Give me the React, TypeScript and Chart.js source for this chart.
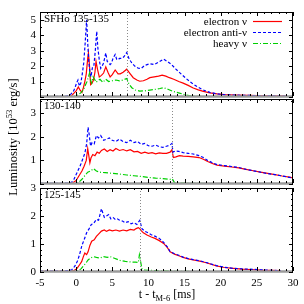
import { useEffect, useRef } from "react";
import { Chart, registerables } from "chart.js";
Chart.register(...registerables);

const FONT = "'Liberation Serif', 'Times New Roman', serif";

// ---------- shared ----------
const xTicks = [-5, 0, 5, 10, 15, 20, 25, 30];
const seriesNames = ["electron ν", "electron anti-ν", "heavy ν"];

// ---------- panel 1: SFHo 135-135 ----------
const p1Label = "SFHo 135-135";
const p1Merger = 7.0;
const p1YTicks = [1, 2, 3, 4, 5];
const p1ElecT = [-5, -2, -1, -0.6, -0.3, 0.0, 0.3, 0.55, 0.8, 1.0, 1.2, 1.4, 1.6, 1.7, 1.85, 2.0, 2.2, 2.4, 2.6, 2.75, 2.95, 3.2, 3.5, 3.8, 4.1, 4.4, 4.7, 5.0, 5.4, 5.8, 6.1, 6.5, 7.0, 7.4, 7.9, 8.4, 8.8, 9.3, 9.8, 10.2, 10.8, 11.4, 11.9, 12.4, 12.9, 13.5, 14.2, 14.8, 15.5, 16.2, 16.9, 17.6, 18.5, 19.5, 20.5, 22, 24, 26, 28, 29];
const p1Elec = [0.02, 0.02, 0.04, 0.1, 0.25, 0.4, 0.65, 0.45, 0.3, 0.6, 1.0, 1.5, 2.5, 2.85, 2.0, 0.8, 0.9, 1.1, 1.6, 2.3, 1.8, 1.3, 1.4, 1.55, 1.95, 1.6, 1.3, 1.45, 1.75, 1.5, 1.5, 1.6, 1.8, 1.55, 1.25, 1.1, 1.02, 1.05, 1.15, 1.25, 1.3, 1.35, 1.42, 1.35, 1.25, 1.15, 1.0, 0.9, 0.75, 0.58, 0.46, 0.36, 0.27, 0.2, 0.15, 0.12, 0.1, 0.08, 0.07, 0.06];
const p1AntiT = [-5, -3, -2, -1.5, -1, -0.7, -0.4, -0.15, 0.05, 0.25, 0.45, 0.65, 0.85, 1.05, 1.25, 1.45, 1.6, 1.75, 1.9, 2.05, 2.25, 2.45, 2.65, 2.85, 3.0, 3.2, 3.4, 3.6, 3.8, 4.1, 4.3, 4.5, 4.7, 4.9, 5.1, 5.4, 5.6, 5.8, 6.0, 6.3, 6.6, 7.0, 7.3, 7.7, 8.1, 8.6, 9.0, 9.5, 10.2, 10.8, 11.4, 12.1, 12.6, 13.2, 13.8, 14.5, 15.2, 16.0, 16.8, 17.6, 18.5, 19.5, 20.5, 22, 24, 26, 28, 29];
const p1Anti = [0.03, 0.03, 0.04, 0.05, 0.1, 0.2, 0.35, 0.6, 0.9, 1.1, 0.7, 0.9, 1.5, 2.2, 3.5, 5.0, 3.5, 2.3, 1.6, 1.3, 1.9, 2.0, 3.0, 4.25, 3.2, 2.4, 1.85, 2.0, 2.2, 2.85, 2.3, 2.2, 2.1, 2.2, 2.5, 2.75, 2.45, 2.4, 2.5, 2.5, 2.6, 2.88, 2.5, 2.2, 2.0, 1.86, 1.85, 2.05, 2.15, 2.1, 2.25, 2.45, 2.3, 2.1, 1.8, 1.5, 1.2, 0.9, 0.65, 0.45, 0.3, 0.2, 0.15, 0.12, 0.1, 0.08, 0.07, 0.06];
const p1HeavyT = [-5, -1, -0.3, 0.2, 0.6, 1.0, 1.3, 1.5, 1.7, 1.85, 2.0, 2.15, 2.35, 2.55, 2.75, 3.0, 3.3, 3.7, 4.1, 4.5, 5.0, 5.5, 6.0, 6.5, 7.0, 7.3, 7.7, 8.2, 8.8, 9.5, 10.2, 11.0, 11.6, 12.1, 12.7, 13.5, 14.3, 15.0, 15.8, 16.5, 18, 20, 24, 28, 29];
const p1Heavy = [0.0, 0.01, 0.05, 0.12, 0.25, 0.45, 0.8, 1.0, 1.3, 1.55, 1.1, 0.9, 1.3, 1.15, 0.95, 1.05, 1.15, 0.95, 1.15, 1.0, 1.05, 1.1, 1.05, 1.1, 1.2, 0.85, 0.6, 0.45, 0.38, 0.4, 0.45, 0.5, 0.55, 0.6, 0.5, 0.35, 0.25, 0.15, 0.08, 0.05, 0.03, 0.02, 0.01, 0.01, 0.01];

// ---------- panel 2: 130-140 ----------
const p2Label = "130-140";
const p2Merger = 13.3;
const p2YTicks = [1, 2, 3];
const p2ElecT = [-5, -1, -0.4, 0.0, 0.4, 0.8, 1.1, 1.4, 1.6, 1.75, 1.9, 2.05, 2.3, 2.6, 2.9, 3.2, 3.5, 3.9, 4.3, 4.7, 5.1, 5.5, 6.0, 6.5, 7.0, 7.5, 8.0, 8.5, 9.0, 9.5, 10.0, 10.5, 11.0, 11.5, 12.0, 12.5, 13.0, 13.25, 13.45, 13.8, 14.3, 14.8, 15.5, 16.2, 17.0, 17.6, 18.2, 19.0, 19.5, 20.5, 21.5, 22.5, 23.5, 24.5, 25.5, 26.5, 27.5, 28.5, 29.5, 30];
const p2Elec = [0.02, 0.03, 0.06, 0.15, 0.35, 0.55, 0.75, 1.0, 1.5, 1.2, 0.9, 1.1, 1.25, 1.2, 1.35, 1.3, 1.42, 1.48, 1.38, 1.45, 1.4, 1.5, 1.42, 1.46, 1.4, 1.45, 1.36, 1.38, 1.3, 1.35, 1.3, 1.33, 1.28, 1.32, 1.3, 1.3, 1.35, 1.45, 1.12, 1.15, 1.2, 1.18, 1.17, 1.15, 1.12, 1.05, 0.95, 0.85, 0.8, 0.76, 0.72, 0.68, 0.62, 0.56, 0.5, 0.45, 0.4, 0.34, 0.29, 0.26];
const p2AntiT = [-5, -2, -1, -0.6, -0.3, 0.0, 0.3, 0.6, 0.9, 1.2, 1.45, 1.65, 1.8, 2.0, 2.2, 2.5, 2.8, 3.1, 3.4, 3.8, 4.2, 4.6, 5.0, 5.5, 6.0, 6.5, 7.0, 7.5, 8.0, 8.5, 9.0, 9.5, 10.0, 10.5, 11.0, 11.5, 12.0, 12.5, 13.0, 13.25, 13.4, 13.7, 14.2, 14.8, 15.5, 16.2, 17.0, 17.6, 18.2, 19.0, 19.5, 20.5, 21.5, 22.5, 23.5, 24.5, 25.5, 26.5, 27.5, 28.5, 29.5, 30];
const p2Anti = [0.03, 0.03, 0.04, 0.08, 0.2, 0.4, 0.6, 0.8, 1.05, 1.3, 1.7, 2.4, 2.1, 1.6, 1.75, 1.7, 2.05, 1.95, 2.05, 1.85, 1.9, 1.95, 1.85, 1.8, 1.9, 1.8, 1.75, 1.85, 1.75, 1.8, 1.68, 1.72, 1.62, 1.6, 1.65, 1.58, 1.55, 1.6, 1.65, 1.72, 1.35, 1.4, 1.38, 1.33, 1.3, 1.27, 1.2, 1.12, 1.0, 0.88, 0.82, 0.78, 0.74, 0.7, 0.62, 0.56, 0.5, 0.44, 0.4, 0.34, 0.28, 0.25];
const p2HeavyT = [-5, 0, 0.4, 0.8, 1.2, 1.6, 2.0, 2.4, 2.8, 3.3, 4.0, 5.0, 6.0, 7.0, 8.0, 9.0, 10.0, 11.0, 12.0, 13.0, 13.3, 13.6, 14.5, 16, 18, 20, 30];
const p2Heavy = [0.0, 0.02, 0.08, 0.2, 0.35, 0.5, 0.55, 0.65, 0.55, 0.5, 0.48, 0.45, 0.42, 0.38, 0.35, 0.32, 0.28, 0.25, 0.23, 0.2, 0.22, 0.06, 0.04, 0.03, 0.02, 0.01, 0.01];

// ---------- panel 3: 125-145 ----------
const p3Label = "125-145";
const p3Merger = 8.8;
const p3YTicks = [0, 1, 2, 3];
const p3ElecT = [-5, -1, -0.3, 0.1, 0.45, 0.76, 1.0, 1.2, 1.45, 1.65, 1.9, 2.15, 2.5, 2.8, 3.1, 3.5, 3.9, 4.2, 4.6, 5.0, 5.5, 6.0, 6.5, 7.0, 7.5, 8.0, 8.3, 8.6, 8.8, 9.0, 9.3, 9.8, 10.4, 10.9, 11.5, 12.1, 12.6, 13.0, 13.6, 14.2, 14.8, 15.5, 16.2, 17.1, 18.0, 19.4, 20.5, 21.7, 23, 24, 25.5, 27, 28.3];
const p3Elec = [0.02, 0.02, 0.05, 0.12, 0.25, 0.37, 0.55, 0.68, 0.62, 0.72, 0.95, 1.1, 1.15, 1.27, 1.35, 1.46, 1.5, 1.45, 1.5, 1.47, 1.5, 1.46, 1.5, 1.47, 1.52, 1.5, 1.55, 1.58, 1.55, 1.48, 1.4, 1.32, 1.25, 1.2, 1.12, 1.02, 0.88, 0.72, 0.64, 0.58, 0.52, 0.47, 0.43, 0.39, 0.33, 0.22, 0.16, 0.13, 0.1, 0.09, 0.07, 0.06, 0.05];
const p3AntiT = [-5, -2, -1, -0.6, -0.2, 0.2, 0.5, 0.8, 1.1, 1.45, 1.8, 2.1, 2.4, 2.8, 3.1, 3.3, 3.5, 3.7, 3.9, 4.2, 4.5, 4.8, 5.1, 5.4, 5.7, 6.0, 6.4, 6.8, 7.2, 7.6, 8.0, 8.4, 8.8, 9.1, 9.5, 9.8, 10.4, 10.9, 11.5, 12.1, 12.6, 13.0, 13.6, 14.2, 14.8, 15.5, 16.2, 17.1, 18.0, 19.4, 20.5, 21.7, 23, 24, 25.5, 27, 28.3];
const p3Anti = [0.03, 0.03, 0.05, 0.08, 0.2, 0.4, 0.65, 0.95, 1.15, 1.4, 1.55, 1.7, 1.73, 1.88, 1.85, 2.05, 2.26, 2.1, 1.95, 2.0, 2.05, 1.9, 1.95, 1.88, 1.9, 1.85, 1.82, 1.76, 1.8, 1.72, 1.76, 1.7, 1.84, 1.55, 1.45, 1.42, 1.33, 1.28, 1.2, 1.06, 0.9, 0.73, 0.65, 0.6, 0.53, 0.48, 0.44, 0.4, 0.34, 0.23, 0.17, 0.13, 0.11, 0.1, 0.08, 0.06, 0.05];
const p3HeavyT = [-5, 0, 0.4, 0.7, 1.0, 1.3, 1.65, 2.0, 2.4, 2.8, 3.3, 3.8, 4.3, 4.7, 5.2, 5.7, 6.1, 6.8, 7.5, 8.2, 8.6, 8.75, 8.9, 9.1, 9.3, 10, 11, 12, 13, 15, 20, 28.3];
const p3Heavy = [0.0, 0.02, 0.06, 0.12, 0.22, 0.3, 0.43, 0.5, 0.55, 0.52, 0.5, 0.55, 0.52, 0.55, 0.5, 0.45, 0.41, 0.38, 0.36, 0.35, 0.34, 0.61, 0.4, 0.12, 0.07, 0.06, 0.05, 0.04, 0.03, 0.02, 0.01, 0.01];

// ---------- styles ----------
const STYLES = [
  { color: "#ff0000", dash: [] as number[] },
  { color: "#0000ff", dash: [3, 2] },
  { color: "#00d000", dash: [5, 2, 1, 2] },
];

type PanelCfg = {
  label: string;
  merger: number;
  yTicks: number[];
  ymax: number;
  minorY: number;
  top: number;
  bottomPad: number;
  showX: boolean;
  legend: boolean;
  titles: boolean;
  series: { t: number[]; v: number[] }[];
};

const PANELS: PanelCfg[] = [
  {
    label: p1Label, merger: p1Merger, yTicks: p1YTicks, ymax: 5.5, minorY: 0.5,
    top: 12, bottomPad: 207, showX: false, legend: true, titles: false,
    series: [{ t: p1ElecT, v: p1Elec }, { t: p1AntiT, v: p1Anti }, { t: p1HeavyT, v: p1Heavy }],
  },
  {
    label: p2Label, merger: p2Merger, yTicks: p2YTicks, ymax: 3.6, minorY: 0.5,
    top: 99, bottomPad: 120, showX: false, legend: false, titles: false,
    series: [{ t: p2ElecT, v: p2Elec }, { t: p2AntiT, v: p2Anti }, { t: p2HeavyT, v: p2Heavy }],
  },
  {
    label: p3Label, merger: p3Merger, yTicks: p3YTicks, ymax: 3.0, minorY: 0.2,
    top: 188, bottomPad: 10, showX: true, legend: false, titles: true,
    series: [{ t: p3ElecT, v: p3Elec }, { t: p3AntiT, v: p3Anti }, { t: p3HeavyT, v: p3Heavy }],
  },
];

function makePlugin(cfg: PanelCfg) {
  return {
    id: "panelFrame",
    afterDraw(chart: any) {
      const { ctx, chartArea: a, scales } = chart;
      const xs = scales.x, ys = scales.y;
      ctx.save();
      // merger line
      ctx.strokeStyle = "#8a8a8a";
      ctx.lineWidth = 1;
      ctx.setLineDash([1, 2]);
      const vx = Math.round(xs.getPixelForValue(cfg.merger)) + 0.5;
      ctx.beginPath();
      ctx.moveTo(vx, a.top);
      ctx.lineTo(vx, a.bottom);
      ctx.stroke();
      ctx.setLineDash([]);

      // bottom gray zero line
      ctx.strokeStyle = "#9a9a9a";
      ctx.lineWidth = 2.5;
      ctx.beginPath();
      ctx.moveTo(a.left, a.bottom - 0.5);
      ctx.lineTo(a.right, a.bottom - 0.5);
      ctx.stroke();

      // frame
      ctx.strokeStyle = "#000";
      ctx.lineWidth = 1;
      ctx.beginPath();
      ctx.moveTo(a.left + 0.5, a.bottom);
      ctx.lineTo(a.left + 0.5, a.top + 0.5);
      ctx.lineTo(a.right - 0.5, a.top + 0.5);
      ctx.lineTo(a.right - 0.5, a.bottom);
      ctx.stroke();

      // inward ticks
      ctx.beginPath();
      for (let t = -5; t <= 30; t++) {
        const px = Math.round(xs.getPixelForValue(t)) + 0.5;
        const len = t % 5 === 0 ? 4 : 2;
        ctx.moveTo(px, a.bottom - 1);
        ctx.lineTo(px, a.bottom - 1 - len);
        ctx.moveTo(px, a.top);
        ctx.lineTo(px, a.top + len);
      }
      const n = Math.floor(cfg.ymax / cfg.minorY + 1e-6);
      for (let i = 0; i <= n; i++) {
        const v = i * cfg.minorY;
        const major = Math.abs(v - Math.round(v)) < 1e-6;
        const py = Math.round(ys.getPixelForValue(v)) + 0.5;
        const len = major ? 4 : 2;
        ctx.moveTo(a.left, py);
        ctx.lineTo(a.left + len, py);
        ctx.moveTo(a.right, py);
        ctx.lineTo(a.right - len, py);
      }
      ctx.stroke();

      // panel label
      ctx.fillStyle = "#000";
      ctx.font = `11px ${FONT}`;
      ctx.textAlign = "left";
      ctx.textBaseline = "alphabetic";
      ctx.fillText(cfg.label, a.left + 4, a.top + 10);

      if (cfg.legend) {
        const rows = [a.top + 9.5, a.top + 20.5, a.top + 31.5];
        seriesNames.forEach((name, i) => {
          ctx.fillStyle = "#000";
          ctx.textAlign = "right";
          ctx.textBaseline = "middle";
          ctx.font = `11px ${FONT}`;
          ctx.fillText(name, 247, rows[i] + 1);
          ctx.strokeStyle = STYLES[i].color;
          ctx.lineWidth = 1.2;
          ctx.setLineDash(STYLES[i].dash);
          ctx.beginPath();
          ctx.moveTo(253, rows[i]);
          ctx.lineTo(282, rows[i]);
          ctx.stroke();
          ctx.setLineDash([]);
        });
      }

      if (cfg.titles) {
        // x title: t - t_{M-6} [ms]
        ctx.fillStyle = "#000";
        ctx.textAlign = "left";
        ctx.textBaseline = "alphabetic";
        const big = `12px ${FONT}`;
        const small = `8.5px ${FONT}`;
        const parts = [
          { s: "t - t", f: big, dy: 0 },
          { s: "M-6", f: small, dy: 3 },
          { s: " [ms]", f: big, dy: 0 },
        ];
        let w = 0;
        parts.forEach((p) => { ctx.font = p.f; w += ctx.measureText(p.s).width; });
        let x = 167 - w / 2;
        parts.forEach((p) => {
          ctx.font = p.f;
          ctx.fillText(p.s, x, 298 + p.dy);
          x += ctx.measureText(p.s).width;
        });

        // y title: Luminosity [10^53 erg/s]
        const yb = `12.5px ${FONT}`;
        const ysml = `8.5px ${FONT}`;
        const yparts = [
          { s: "Luminosity [10", f: yb, dy: 0 },
          { s: "53", f: ysml, dy: -5 },
          { s: " erg/s]", f: yb, dy: 0 },
        ];
        ctx.save();
        ctx.translate(17, 137);
        ctx.rotate(-Math.PI / 2);
        let wy = 0;
        yparts.forEach((p) => { ctx.font = p.f; wy += ctx.measureText(p.s).width; });
        let xx = -wy / 2;
        yparts.forEach((p) => {
          ctx.font = p.f;
          ctx.fillText(p.s, xx, p.dy);
          xx += ctx.measureText(p.s).width;
        });
        ctx.restore();
      }
      ctx.restore();
    },
  };
}

function Panel({ cfg }: { cfg: PanelCfg }) {
  const ref = useRef<HTMLCanvasElement>(null);
  useEffect(() => {
    const datasets = cfg.series
      .map((s, i) => ({
        label: seriesNames[i],
        data: s.t.map((t, k) => ({ x: t, y: s.v[k] })),
        borderColor: STYLES[i].color,
        borderDash: STYLES[i].dash,
        borderWidth: 1.2,
        pointRadius: 0,
        tension: 0,
        fill: false,
      }))
      .reverse();
    const xScale: any = {
      type: "linear",
      min: -5,
      max: 30,
      display: cfg.showX,
      afterBuildTicks: (s: any) => { s.ticks = xTicks.map((v) => ({ value: v })); },
      grid: { display: false, drawTicks: false, tickLength: 0 },
      border: { display: false },
      ticks: { font: { family: FONT, size: 11 }, color: "#000", padding: 5, maxRotation: 0, autoSkip: false },
    };
    if (cfg.showX) xScale.afterFit = (s: any) => { s.height = 22; };
    const chart = new Chart(ref.current!, {
      type: "line",
      data: { datasets },
      options: {
        animation: false,
        responsive: false,
        devicePixelRatio: 1,
        layout: { padding: { left: 0, right: 11, top: cfg.top, bottom: cfg.bottomPad } },
        plugins: { legend: { display: false }, tooltip: { enabled: false } },
        scales: {
          x: xScale,
          y: {
            type: "linear",
            min: 0,
            max: cfg.ymax,
            afterBuildTicks: (s: any) => { s.ticks = cfg.yTicks.map((v) => ({ value: v })); },
            afterFit: (s: any) => { s.width = 40; },
            grid: { display: false, drawTicks: false, tickLength: 0 },
            border: { display: false },
            ticks: { font: { family: FONT, size: 11 }, color: "#000", padding: 4 },
          },
        },
      },
      plugins: [makePlugin(cfg)],
    } as any);
    return () => chart.destroy();
  }, [cfg]);
  return (
    <canvas
      ref={ref}
      width={304}
      height={304}
      style={{ position: "absolute", left: 0, top: 0, width: 304, height: 304 }}
    />
  );
}

export default function App() {
  return (
    <div style={{ position: "fixed", left: 0, top: 0, width: 304, height: 304, background: "#fff" }}>
      {PANELS.map((p, i) => (
        <Panel key={i} cfg={p} />
      ))}
    </div>
  );
}
